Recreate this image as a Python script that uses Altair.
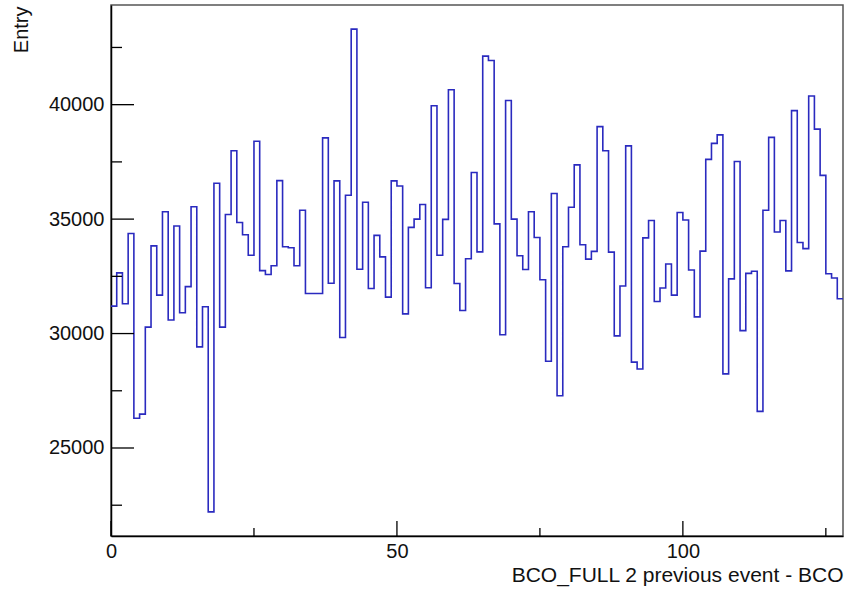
import altair as alt
import pandas as pd

# bin contents, bins of width 1 from 0 to 128
counts = [
    31200, 32650, 31300, 34370, 26300, 26480, 30280, 33830, 31680, 35320,
    30590, 34700, 30910, 32050, 35540, 29420, 31170, 22210, 36570, 30280,
    35200, 37990, 34850, 34320, 33420, 38400, 32750, 32580, 32960, 36680,
    33790, 33750, 32960, 35390, 31750, 31750, 31750, 38550, 32200, 36670,
    29830, 36040, 43300, 32810, 35740, 31970, 34290, 33350, 31590, 36670,
    36450, 30860, 34640, 35000, 35640, 32000, 39950, 33420, 34990, 40650,
    32190, 31010, 33270, 37040, 33570, 42120, 41930, 34790, 29950, 40180,
    35000, 33400, 32800, 35320, 34200, 32350, 28790, 36120, 27280, 33790,
    35520, 37370, 33880, 33250, 33590, 39040, 37990, 33560, 29900, 32080,
    38200, 28750, 28450, 34180, 34940, 31400, 31990, 33040, 31680, 35290,
    34960, 32780, 30730, 33600, 37610, 38310, 38680, 28240, 32390, 37520,
    30130, 32630, 32720, 26600, 35390, 38570, 34440, 34940, 32740, 39740,
    33980, 33710, 40380, 38930, 36910, 32610, 32430, 31520,
]
x_min, x_max = 0, 128
y_min, y_max = 21155, 44355
x_major = [0, 50, 100]
x_minor = [25, 75, 125]
y_major = [25000, 30000, 35000, 40000]
y_minor = [22500, 27500, 32500, 37500, 42500]

edges = list(range(x_min, x_max + 1))
df = pd.DataFrame({"edge": edges, "count": counts + [counts[-1]]})

W, H = 732, 531
FONT = "Liberation Sans"
xscale = alt.Scale(domain=[x_min, x_max], nice=False, zero=False)
yscale = alt.Scale(domain=[y_min, y_max], nice=False, zero=False)

# tick lengths in data units (ticks point inward, as in ROOT)
px_x = (x_max - x_min) / W
px_y = (y_max - y_min) / H

xaxis = alt.Axis(
    values=x_major, ticks=False, tickSize=0, grid=False, format="d",
    domainColor="black", domainWidth=1.5,
    labelFont=FONT, labelFontSize=20, labelColor="#111", labelPadding=5,
    labelFlush=False,
    title="BCO_FULL 2 previous event - BCO", titleFont=FONT,
    titleFontSize=21, titleFontWeight="normal", titleColor="#111",
    titleAnchor="end", titlePadding=3,
)
yaxis = alt.Axis(
    values=y_major, ticks=False, tickSize=0, grid=False, format="d",
    domainColor="black", domainWidth=1.5,
    labelFont=FONT, labelFontSize=20, labelColor="#111", labelPadding=7,
    title="Entry", titleFont=FONT, titleFontSize=20,
    titleFontWeight="normal", titleColor="#111",
    titleAngle=270, titleAlign="right", titleBaseline="alphabetic",
    titleX=-84, titleY=1,
)

line = alt.Chart(df).mark_line(
    interpolate="step-after", color="#2a2abf", strokeWidth=1.6
).encode(
    x=alt.X("edge:Q", scale=xscale, axis=xaxis),
    y=alt.Y("count:Q", scale=yscale, axis=yaxis),
)


def ytick(vals, length_px):
    return alt.Chart(pd.DataFrame({"v": vals})).mark_rule(
        color="black", strokeWidth=1.3
    ).encode(
        y=alt.Y("v:Q", scale=yscale, axis=yaxis),
        x=alt.X(datum=x_min, type="quantitative", scale=xscale, axis=xaxis),
        x2=alt.X2(datum=x_min + length_px * px_x),
    )


def xtick(vals, length_px):
    return alt.Chart(pd.DataFrame({"v": vals})).mark_rule(
        color="black", strokeWidth=1.3
    ).encode(
        x=alt.X("v:Q", scale=xscale, axis=xaxis),
        y=alt.Y(datum=y_min, type="quantitative", scale=yscale, axis=yaxis),
        y2=alt.Y2(datum=y_min + length_px * px_y),
    )


chart = alt.layer(
    line, ytick(y_major, 23), ytick(y_minor, 11), xtick(x_major, 15), xtick(x_minor, 8)
).properties(
    width=W, height=H,
    autosize=alt.AutoSizeParams(type="none"),
    padding={"left": 111, "top": 5, "right": 2, "bottom": 54},
    background="white",
).configure_view(stroke="#555", strokeWidth=1.5)

chart.save("out.html", embed_options={"renderer": "svg", "actions": False})
